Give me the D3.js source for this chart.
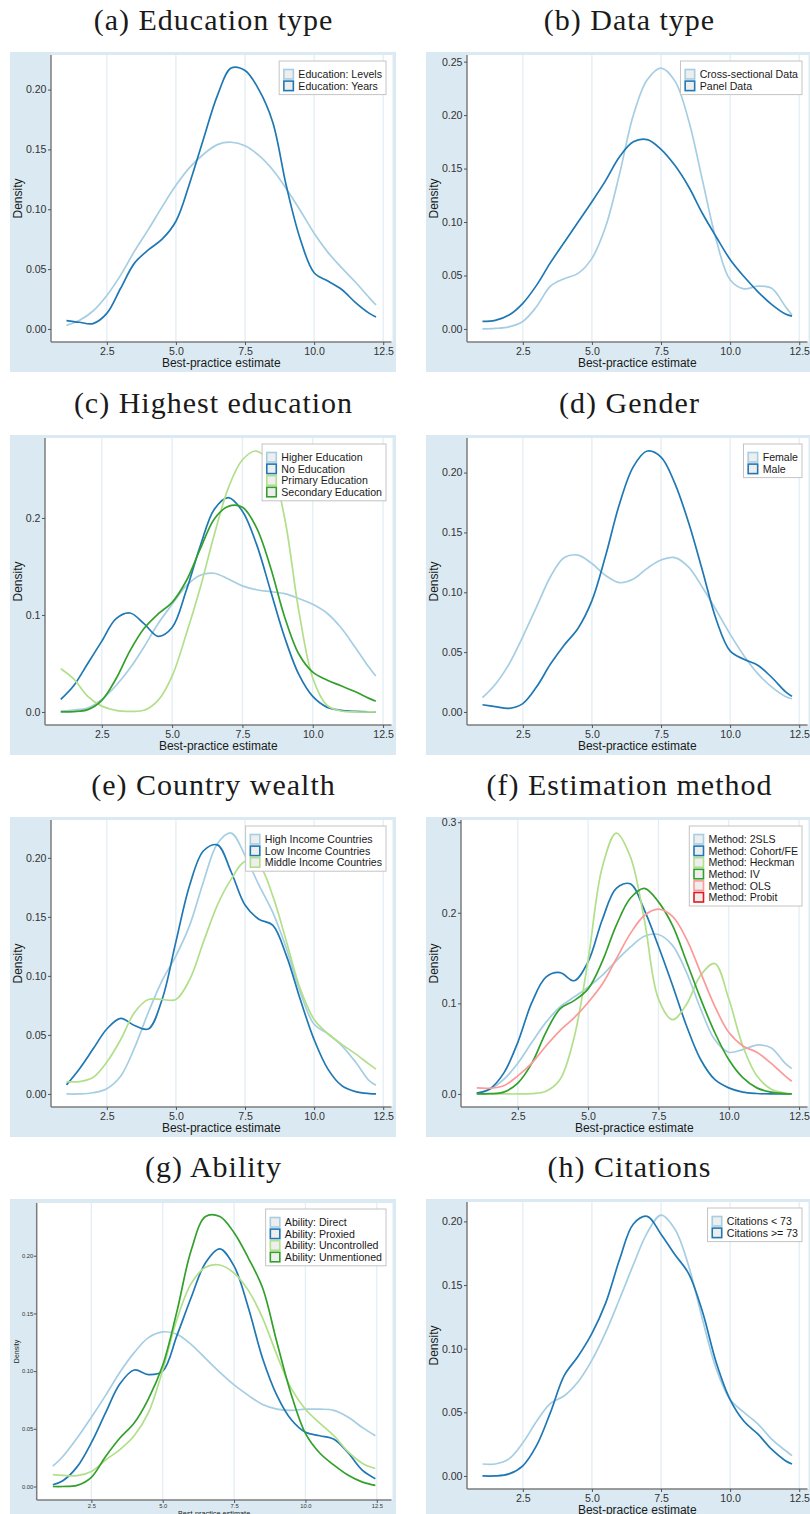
<!DOCTYPE html>
<html>
<head>
<meta charset="utf-8">
<script src="https://cdn.jsdelivr.net/npm/d3@7"></script>
<style>
  body { margin: 0; background: #fff; }
  svg { display: block; }
</style>
</head>
<body>
<svg id="chart" width="810" height="1514"></svg>
<script>
// evaluation grid (best-practice estimate) shared by the density curves
const xsStd = [1.04, 1.5, 2, 2.5, 3, 3.5, 4, 4.5, 5, 5.5, 6, 6.5, 7, 7.5, 8, 8.5, 9, 9.5, 10, 10.5, 11, 11.5, 12, 12.24];
const xsAbility = [1.15, 1.5, 2, 2.5, 3, 3.5, 4, 4.5, 5, 5.5, 6, 6.5, 7, 7.5, 8, 8.5, 9, 9.5, 10, 10.5, 11, 11.5, 12, 12.45];
const xTicks = [2.5, 5, 7.5, 10, 12.5];

// (a) education type
const namesA = ['Education: Levels', 'Education: Years'];
const eduLevels = [0.003, 0.007, 0.015, 0.028, 0.045, 0.065, 0.083, 0.102, 0.120, 0.135, 0.146, 0.154, 0.156, 0.153, 0.145, 0.133, 0.117, 0.099, 0.080, 0.064, 0.051, 0.039, 0.026, 0.020];
const eduYears = [0.007, 0.0056, 0.0045, 0.013, 0.034, 0.055, 0.066, 0.075, 0.090, 0.122, 0.159, 0.195, 0.218, 0.216, 0.200, 0.173, 0.119, 0.075, 0.047, 0.040, 0.033, 0.022, 0.013, 0.010];

// (b) data type
const namesB = ['Cross-sectional Data', 'Panel Data'];
const crossSectional = [0.000, 0.0005, 0.002, 0.007, 0.021, 0.040, 0.047, 0.052, 0.066, 0.096, 0.145, 0.200, 0.233, 0.244, 0.232, 0.195, 0.139, 0.083, 0.046, 0.0375, 0.040, 0.038, 0.021, 0.013];
const panelData = [0.007, 0.008, 0.013, 0.024, 0.041, 0.062, 0.081, 0.100, 0.119, 0.139, 0.161, 0.175, 0.177, 0.168, 0.153, 0.133, 0.108, 0.086, 0.065, 0.049, 0.035, 0.023, 0.014, 0.012];

// (c) highest education
const namesC = ['Higher Education', 'No Education', 'Primary Education', 'Secondary Education'];
const higherEdu = [0.001, 0.002, 0.004, 0.013, 0.027, 0.045, 0.067, 0.091, 0.111, 0.130, 0.141, 0.143, 0.137, 0.130, 0.126, 0.124, 0.122, 0.117, 0.111, 0.102, 0.087, 0.067, 0.046, 0.037];
const noEdu = [0.013, 0.027, 0.050, 0.073, 0.096, 0.102, 0.091, 0.078, 0.087, 0.125, 0.171, 0.209, 0.221, 0.207, 0.173, 0.125, 0.077, 0.039, 0.016, 0.005, 0.0017, 0.0005, 0, 0];
const primaryEdu = [0.0445, 0.034, 0.016, 0.006, 0.0017, 0.0007, 0.0017, 0.012, 0.037, 0.080, 0.128, 0.183, 0.231, 0.260, 0.269, 0.255, 0.200, 0.105, 0.035, 0.007, 0.001, 0, 0, 0];
const secondaryEdu = [0, 0.0003, 0.0024, 0.012, 0.034, 0.063, 0.086, 0.101, 0.113, 0.135, 0.168, 0.199, 0.212, 0.211, 0.190, 0.149, 0.098, 0.060, 0.041, 0.033, 0.027, 0.021, 0.014, 0.011];

// (d) gender
const namesD = ['Female', 'Male'];
const female = [0.012, 0.023, 0.040, 0.063, 0.088, 0.113, 0.129, 0.131, 0.124, 0.114, 0.108, 0.111, 0.120, 0.127, 0.129, 0.121, 0.104, 0.085, 0.065, 0.047, 0.032, 0.021, 0.013, 0.011];
const male = [0.006, 0.0045, 0.003, 0.007, 0.021, 0.040, 0.056, 0.070, 0.093, 0.131, 0.174, 0.205, 0.218, 0.213, 0.191, 0.158, 0.118, 0.077, 0.051, 0.044, 0.039, 0.029, 0.017, 0.013];

// (e) country wealth
const namesE = ['High Income Countries', 'Low Income Countries', 'Middle Income Countries'];
const highIncome = [0, 0, 0.001, 0.0045, 0.015, 0.039, 0.069, 0.096, 0.117, 0.143, 0.180, 0.212, 0.221, 0.202, 0.177, 0.154, 0.123, 0.086, 0.059, 0.051, 0.041, 0.027, 0.011, 0.0074];
const lowIncome = [0.0077, 0.021, 0.038, 0.055, 0.064, 0.058, 0.055, 0.080, 0.129, 0.177, 0.206, 0.211, 0.188, 0.160, 0.148, 0.143, 0.117, 0.080, 0.046, 0.021, 0.007, 0.002, 0.0003, 0];
const middleIncome = [0.0105, 0.0105, 0.014, 0.027, 0.046, 0.069, 0.080, 0.080, 0.080, 0.097, 0.129, 0.160, 0.182, 0.197, 0.194, 0.168, 0.129, 0.089, 0.063, 0.051, 0.042, 0.034, 0.025, 0.021];

// (f) estimation method (Probit has no curve drawn)
const namesF = ['Method: 2SLS', 'Method: Cohort/FE', 'Method: Heckman', 'Method: IV', 'Method: OLS', 'Method: Probit'];
const method2sls = [0.001, 0.005, 0.016, 0.034, 0.057, 0.079, 0.096, 0.107, 0.118, 0.131, 0.147, 0.162, 0.174, 0.176, 0.164, 0.134, 0.094, 0.060, 0.046, 0.049, 0.054, 0.051, 0.034, 0.028];
const methodCohort = [0.001, 0.0055, 0.023, 0.057, 0.101, 0.129, 0.134, 0.125, 0.146, 0.192, 0.227, 0.232, 0.203, 0.163, 0.120, 0.075, 0.038, 0.016, 0.0067, 0.002, 0.0005, 0, 0, 0];
const methodHeckman = [0, 0, 0, 0, 0.0004, 0.003, 0.016, 0.062, 0.148, 0.250, 0.288, 0.262, 0.192, 0.105, 0.082, 0.099, 0.131, 0.144, 0.105, 0.053, 0.020, 0.0055, 0.001, 0];
const methodIV = [0, 0.0003, 0.002, 0.012, 0.034, 0.068, 0.094, 0.103, 0.116, 0.146, 0.186, 0.216, 0.227, 0.212, 0.186, 0.146, 0.105, 0.068, 0.038, 0.018, 0.0067, 0.002, 0.0004, 0];
const methodOLS = [0.0067, 0.0063, 0.009, 0.020, 0.034, 0.053, 0.070, 0.084, 0.101, 0.121, 0.149, 0.177, 0.197, 0.204, 0.196, 0.171, 0.134, 0.097, 0.068, 0.053, 0.046, 0.034, 0.020, 0.014];
const methodProbit = null;

// (g) ability
const namesG = ['Ability: Direct', 'Ability: Proxied', 'Ability: Uncontrolled', 'Ability: Unmentioned'];
const abilityDirect = [0.0176, 0.026, 0.042, 0.060, 0.079, 0.099, 0.116, 0.129, 0.134, 0.132, 0.123, 0.111, 0.099, 0.088, 0.079, 0.071, 0.067, 0.066, 0.067, 0.067, 0.066, 0.060, 0.051, 0.044];
const abilityProxied = [0.0015, 0.005, 0.017, 0.038, 0.064, 0.089, 0.101, 0.097, 0.100, 0.131, 0.164, 0.194, 0.206, 0.191, 0.155, 0.111, 0.079, 0.058, 0.047, 0.044, 0.041, 0.029, 0.014, 0.0068];
const abilityUncontrolled = [0.0103, 0.0097, 0.0094, 0.013, 0.023, 0.032, 0.044, 0.064, 0.101, 0.145, 0.176, 0.190, 0.192, 0.185, 0.170, 0.146, 0.114, 0.085, 0.067, 0.055, 0.044, 0.030, 0.020, 0.0156];
const abilityUnmentioned = [0, 0, 0.001, 0.008, 0.026, 0.042, 0.055, 0.076, 0.105, 0.152, 0.205, 0.234, 0.234, 0.220, 0.198, 0.172, 0.125, 0.080, 0.046, 0.029, 0.0185, 0.0097, 0.0038, 0.001];

// (h) citations
const namesH = ['Citations < 73', 'Citations >= 73'];
const citeLow = [0.0094, 0.0094, 0.0134, 0.026, 0.043, 0.057, 0.063, 0.074, 0.091, 0.113, 0.139, 0.166, 0.191, 0.205, 0.194, 0.165, 0.123, 0.084, 0.060, 0.050, 0.041, 0.029, 0.020, 0.016];
const citeHigh = [0, 0, 0.0016, 0.008, 0.024, 0.050, 0.079, 0.094, 0.112, 0.136, 0.170, 0.198, 0.204, 0.190, 0.174, 0.159, 0.129, 0.089, 0.060, 0.043, 0.033, 0.021, 0.012, 0.0094];

const ticks05 = [0, 0.05, 0.10, 0.15, 0.20];
const ticks05b = [0, 0.05, 0.10, 0.15, 0.20, 0.25];
const ticks1 = [0, 0.1, 0.2];
const ticks1b = [0, 0.1, 0.2, 0.3];

const paired = ['#a6cee3', '#1f78b4', '#b2df8a', '#33a02c', '#fb9a99', '#e31a1c'];

const panels = [
  {title: '(a) Education type', col: 0, row: 0, xs: xsStd, names: namesA, ys: [eduLevels, eduYears], yTicks: ticks05, yFmt: '.2f', left: 41},
  {title: '(b) Data type', col: 1, row: 0, xs: xsStd, names: namesB, ys: [crossSectional, panelData], yTicks: ticks05b, yFmt: '.2f', left: 41},
  {title: '(c) Highest education', col: 0, row: 1, xs: xsStd, names: namesC, ys: [higherEdu, noEdu, primaryEdu, secondaryEdu], yTicks: ticks1, yFmt: '.1f', left: 35},
  {title: '(d) Gender', col: 1, row: 1, xs: xsStd, names: namesD, ys: [female, male], yTicks: ticks05, yFmt: '.2f', left: 41},
  {title: '(e) Country wealth', col: 0, row: 2, xs: xsStd, names: namesE, ys: [highIncome, lowIncome, middleIncome], yTicks: ticks05, yFmt: '.2f', left: 41},
  {title: '(f) Estimation method', col: 1, row: 2, xs: xsStd, names: namesF, ys: [method2sls, methodCohort, methodHeckman, methodIV, methodOLS, methodProbit], yTicks: ticks1b, yFmt: '.1f', left: 35},
  {title: '(g) Ability', col: 0, row: 3, xs: xsAbility, names: namesG, ys: [abilityDirect, abilityProxied, abilityUncontrolled, abilityUnmentioned], yTicks: ticks05, yFmt: '.2f', left: 26.7, small: true},
  {title: '(h) Citations', col: 1, row: 3, xs: xsStd, names: namesH, ys: [citeLow, citeHigh], yTicks: ticks05, yFmt: '.2f', left: 41}
];

const colX = [10, 426];
const rowY = [52, 435, 817, 1199];
const boxFill = '#dbeaf2';
const gridColor = '#e3eef4';
const sans = '"Liberation Sans", Arial, sans-serif';

const svg = d3.select('#chart');

function drawPanel(p) {
  const bx = colX[p.col], by = rowY[p.row];
  const small = !!p.small;
  const L = bx + p.left, R = bx + 381.5;
  const T = by + (small ? 4 : 3), B = by + (small ? 301 : 290);

  const g = svg.append('g');

  g.append('rect')
    .attr('x', bx).attr('y', by)
    .attr('width', 386).attr('height', 320)
    .attr('fill', boxFill);

  svg.append('text')
    .attr('x', bx + 203.5).attr('y', by - 22)
    .attr('text-anchor', 'middle')
    .attr('font-family', '"Liberation Serif", "Times New Roman", serif')
    .attr('font-size', 30)
    .attr('letter-spacing', 1)
    .attr('fill', '#1a1a1a')
    .text(p.title);

  g.append('rect')
    .attr('x', L).attr('y', T)
    .attr('width', R - L + 1).attr('height', B - T)
    .attr('fill', '#fff');

  const x0 = p.xs[0], x1 = p.xs[p.xs.length - 1], pad = (x1 - x0) * 0.05;
  const x = d3.scaleLinear().domain([x0 - pad, x1 + pad]).range([L, R]);
  const ymax = d3.max(p.ys.filter(Boolean).flat());
  const y = d3.scaleLinear().domain([-0.05 * ymax, 1.05 * ymax]).range([B, T]);

  // vertical grid
  g.append('g').selectAll('line').data(xTicks).join('line')
    .attr('x1', d => x(d)).attr('x2', d => x(d))
    .attr('y1', T).attr('y2', B)
    .attr('stroke', gridColor).attr('stroke-width', 1.3);

  const line = d3.line()
    .x(d => x(d[0]))
    .y(d => y(d[1]))
    .curve(d3.curveCatmullRom.alpha(0.5));

  p.ys.forEach((ys, i) => {
    if (!ys) return;
    g.append('path')
      .datum(p.xs.map((xv, j) => [xv, ys[j]]))
      .attr('d', line)
      .attr('fill', 'none')
      .attr('stroke', paired[i])
      .attr('stroke-width', 1.7);
  });

  const tickFont = small ? 5.8 : 10.6;
  const titleFont = small ? 7.3 : 12;

  const xAxis = g.append('g')
    .attr('transform', `translate(0,${B})`)
    .call(d3.axisBottom(x).tickValues(xTicks).tickFormat(d3.format('.1f'))
      .tickSize(3).tickSizeOuter(0).tickPadding(small ? 1 : 2));
  const yAxis = g.append('g')
    .attr('transform', `translate(${L},0)`)
    .call(d3.axisLeft(y).tickValues(p.yTicks).tickFormat(d3.format(p.yFmt))
      .tickSize(3).tickSizeOuter(0).tickPadding(small ? 0.5 : 1.5));

  [xAxis, yAxis].forEach(a => {
    a.attr('font-family', sans).attr('font-size', tickFont);
    a.select('.domain').attr('stroke', '#7d7d7d').attr('stroke-width', 1.5);
    a.selectAll('.tick line').attr('stroke', '#555');
    a.selectAll('.tick text').attr('fill', '#333');
  });
  // keep the two axis lines meeting at the corner
  yAxis.select('.domain').attr('d', `M0,${T}V${B}`);
  xAxis.select('.domain').attr('d', `M${L},0H${R}`);

  g.append('text')
    .attr('x', (L + R) / 2)
    .attr('y', small ? B + 15.5 : B + 25)
    .attr('text-anchor', 'middle')
    .attr('font-family', sans).attr('font-size', titleFont)
    .attr('fill', '#1a1a1a')
    .text('Best-practice estimate');

  g.append('text')
    .attr('transform', `translate(${bx + (small ? 6.7 : 8)},${(T + B) / 2}) rotate(-90)`)
    .attr('text-anchor', 'middle')
    .attr('dominant-baseline', 'central')
    .attr('font-family', sans).attr('font-size', small ? 7 : 12)
    .attr('fill', '#1a1a1a')
    .text('Density');

  // legend
  const rowH = 11.6, key = 9.5;
  const lg = g.append('g');
  let maxW = 0;
  const labels = p.names.map((n, i) => {
    const t = lg.append('text')
      .attr('font-family', sans).attr('font-size', 10.6)
      .attr('dominant-baseline', 'central')
      .attr('fill', '#1a1a1a')
      .text(n);
    maxW = Math.max(maxW, t.node().getComputedTextLength());
    return t;
  });
  const w = 4.7 + key + 5 + maxW + 4;
  const h = 8.5 + rowH * (p.names.length - 1) + key + 4;
  const lx = R - 5.5 - w, ly = T + 6;
  lg.insert('rect', ':first-child')
    .attr('x', lx).attr('y', ly).attr('width', w).attr('height', h)
    .attr('fill', '#fff').attr('stroke', '#c4c4c4').attr('stroke-width', 1);
  labels.forEach((t, i) => {
    const cy = ly + 8.5 + key / 2 + i * rowH;
    lg.append('rect')
      .attr('x', lx + 4.7).attr('y', cy - key / 2)
      .attr('width', key).attr('height', key)
      .attr('fill', '#eeeeee')
      .attr('stroke', paired[i]).attr('stroke-width', 1.6);
    t.attr('x', lx + 4.7 + key + 5).attr('y', cy);
  });
}

panels.forEach(drawPanel);
</script>
</body>
</html>
